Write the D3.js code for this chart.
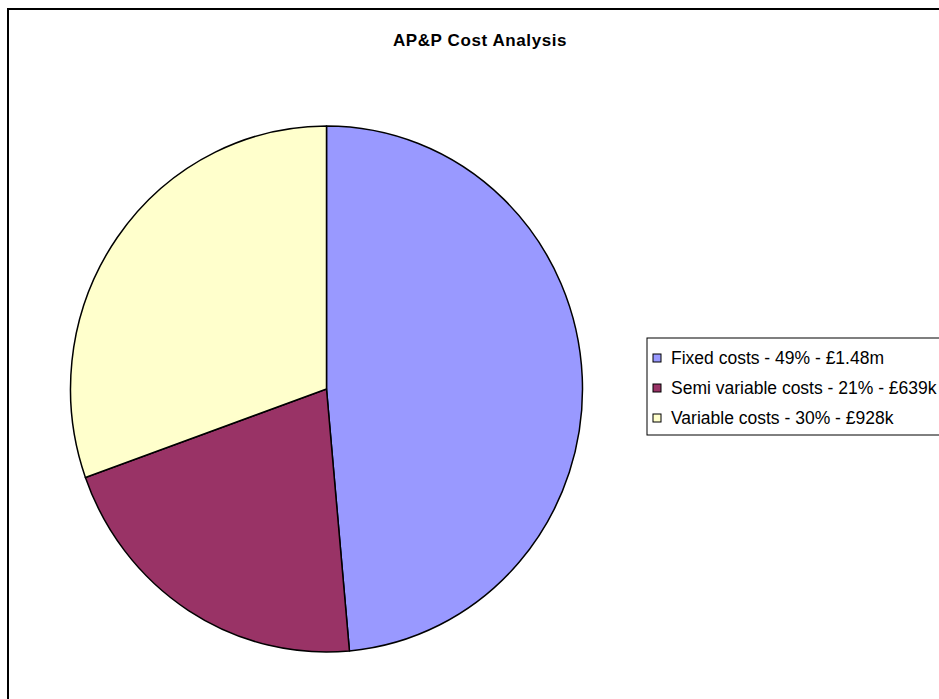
<!DOCTYPE html>
<html>
<head>
<meta charset="utf-8">
<script src="https://cdn.jsdelivr.net/npm/d3@7"></script>
<style>
 body{margin:0;background:#fff;}
 svg{display:block;font-family:Arial,"Liberation Sans",sans-serif;}
</style>
</head>
<body>
<div id="chart"></div>
<script>
// data
var categories = ["Fixed costs","Semi variable costs","Variable costs"];
var values = [1480, 639, 928]; // £k
var labels = ["Fixed costs - 49% - £1.48m","Semi variable costs - 21% - £639k","Variable costs - 30% - £928k"];
var colors = ["#9999FF","#993366","#FFFFCC"];

var width = 939, height = 699;
var cx = 326.5, cy = 389, r = 256, ry = 263;

var svg = d3.select("#chart").append("svg")
	.attr("width",width)
	.attr("height",height);

// chart frame
svg.append("rect")
	.attr("x",8).attr("y",9)
	.attr("width",950).attr("height",710)
	.attr("fill","#fff")
	.attr("stroke","#000")
	.attr("stroke-width",2);

svg.append("text")
	.attr("x",480).attr("y",46)
	.attr("text-anchor","middle")
	.style("font-weight","bold")
	.style("font-size","17px")
	.style("letter-spacing","0.6px")
	.text("AP&P Cost Analysis");

var pie = d3.pie().sort(null).value(function(d){return d;});
var arc = d3.arc().innerRadius(0).outerRadius(r);

var g = svg.append("g")
	.attr("transform","translate("+cx+","+cy+") scale(1,"+(ry/r)+")");

g.selectAll("path")
	.data(pie(values))
	.enter()
	.append("path")
	.attr("d",arc)
	.attr("fill",function(d,i){return colors[i];})
	.attr("stroke","#000")
	.attr("stroke-width",1.5)
	.attr("stroke-linejoin","round");

// legend
var lg = svg.append("g");
lg.append("rect")
	.attr("x",647).attr("y",338)
	.attr("width",310).attr("height",97)
	.attr("fill","#fff")
	.attr("stroke","#000")
	.attr("stroke-width",1);

var y = d3.scalePoint().domain(categories).range([358,418]);

var item = lg.selectAll("g.item")
	.data(categories)
	.enter()
	.append("g")
	.attr("class","item");
item.append("rect")
	.attr("x",653)
	.attr("y",function(d){return y(d)-4;})
	.attr("width",8).attr("height",8)
	.attr("fill",function(d,i){return colors[i];})
	.attr("stroke","#000")
	.attr("stroke-width",1);
item.append("text")
	.attr("x",671)
	.attr("y",function(d){return y(d);})
	.attr("dy","0.35em")
	.style("font-size","17.5px")
	.text(function(d,i){return labels[i];});
</script>
</body>
</html>
